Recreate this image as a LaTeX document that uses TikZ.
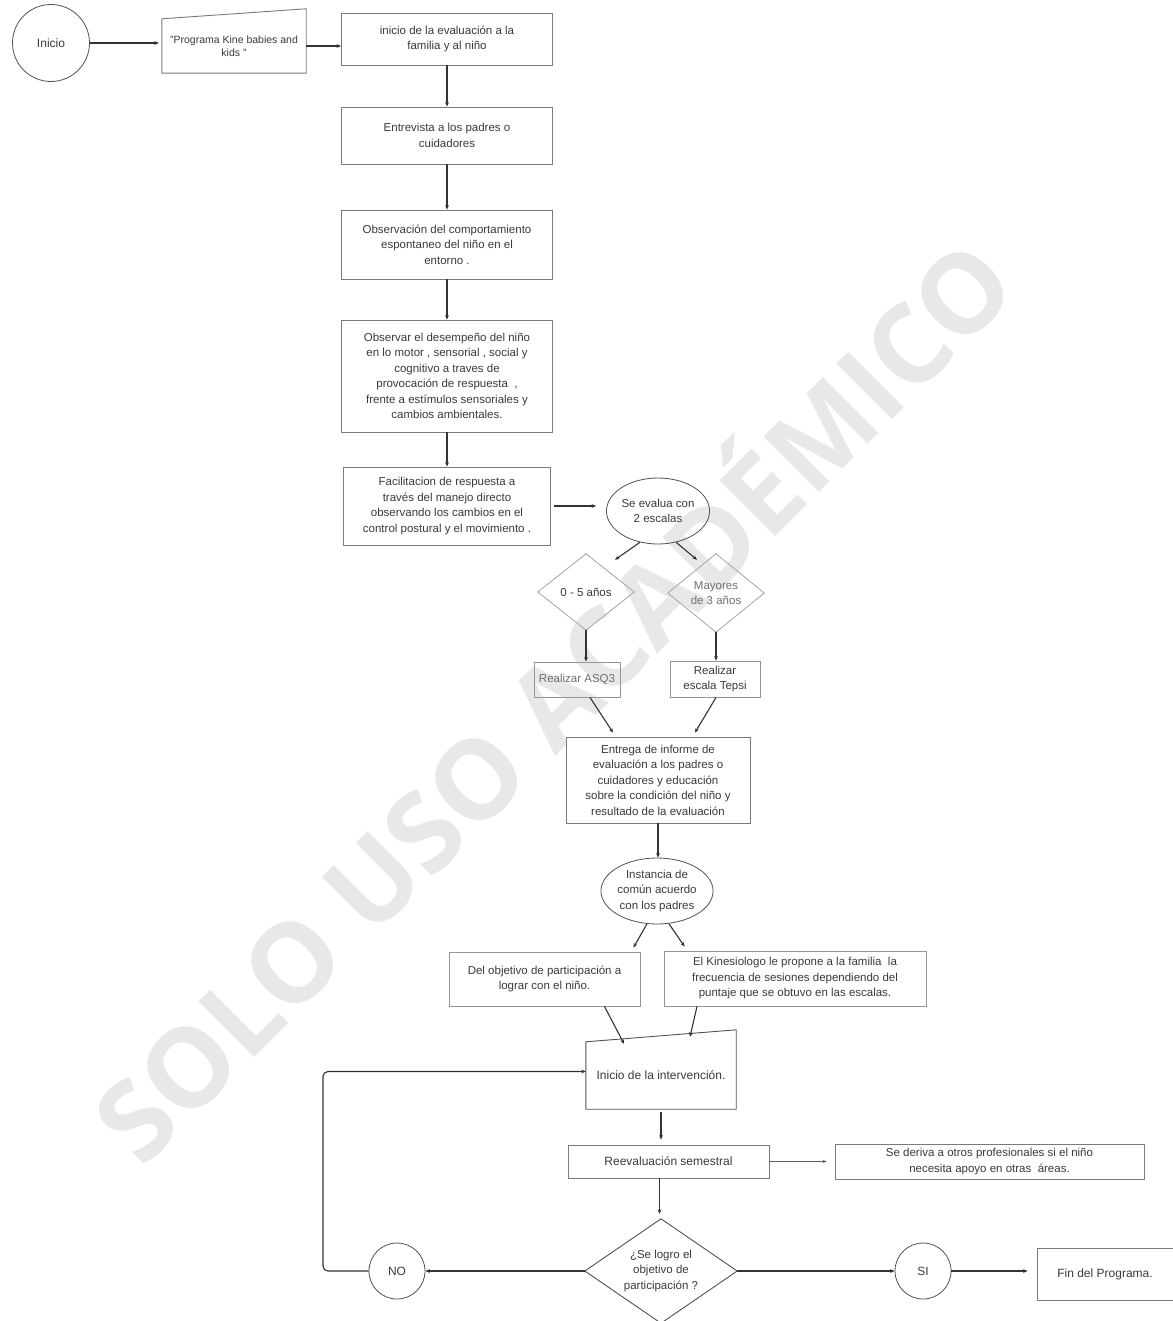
\documentclass[tikz,border=0pt]{standalone}
\usepackage{fontspec}
\setmainfont{Liberation Sans}
\newfontfamily\wmfont{Open Sans}
\usetikzlibrary{arrows.meta,shapes.geometric}
\definecolor{txt}{HTML}{3A3A3A}
\definecolor{lightxt}{HTML}{707070}
\definecolor{ln}{HTML}{333333}
\definecolor{bd}{HTML}{7A7A7A}
\definecolor{dbd}{HTML}{ABABAB}
\definecolor{wm}{HTML}{E8E8E8}
\tikzset{
  base/.style={font=\fontsize{11.5}{15.5}\selectfont, text=txt, align=center, inner sep=0pt},
  box/.style={base, draw=bd, line width=0.9pt, rectangle},
  plain/.style={base, rectangle},
  oval/.style={base, draw=ln!85, line width=0.8pt, ellipse},
  circ/.style={base, draw=ln!85, line width=0.8pt, circle},
  shapeline/.style={draw=bd, line width=0.9pt},
  dialine/.style={draw=dbd, line width=0.9pt},
  arr/.style={draw=ln, line width=1.1pt, -{Stealth[length=4.5pt,width=3.8pt]}},
  thinarr/.style={draw=ln!80, line width=0.6pt, -{Stealth[length=4pt,width=3.2pt]}},
}
\begin{document}
\begin{tikzpicture}[x=1pt,y=-1pt]
\useasboundingbox (0,0) rectangle (1172,1321);
\fill[white] (0,0) rectangle (1172,1321);

% watermark
\node[font=\wmfont\bfseries\fontsize{110}{110}\selectfont, text=wm, rotate=45, inner sep=0pt] (wmk) at (546,694) {SOLO USO ACADÉMICO};

% top row
\node[circ, minimum size=77] (ini) at (51,43) {\fontsize{12}{14}\selectfont Inicio};
\node[plain, minimum width=144, minimum height=54, font=\fontsize{10.5}{13}\selectfont] (prog) at (234,46) {"Programa Kine babies and\\kids "};
\draw[shapeline] (prog.south west) -- (prog.north west) -- ([yshift=10pt]prog.north east) -- (prog.south east) -- cycle;
\node[box, minimum width=211, minimum height=52] (b1) at (447,39) {inicio de la evaluación a la\\familia y al niño};

% main column
\node[box, minimum width=211, minimum height=57] (entrev) at (447,135.5) {Entrevista a los padres o\\cuidadores};
\node[box, minimum width=211, minimum height=69] (obs) at (447,244.5) {Observación del comportamiento\\espontaneo del niño en el\\entorno .};
\node[box, minimum width=211, minimum height=112] (obsv) at (447,376) {Observar el desempeño del niño\\en lo motor , sensorial , social y\\cognitivo a traves de\\provocación de respuesta \ ,\\frente a estímulos sensoriales y\\cambios ambientales.};
\node[box, minimum width=207, minimum height=78] (facil) at (447,506) {Facilitacion de respuesta a\\través del manejo directo\\observando los cambios en el\\control postural y el movimiento .};

\node[oval, minimum width=102, minimum height=66] (eval) at (658,511) {Se evalua con\\2 escalas};

\node[plain, minimum width=96, minimum height=76] (d05) at (586,592) {0 - 5 años};
\draw[dialine] (d05.north) -- (d05.east) -- (d05.south) -- (d05.west) -- cycle;
\node[plain, minimum width=96, minimum height=78, text=lightxt] (dmay) at (716,593) {Mayores\\de 3 años};
\draw[dialine] (dmay.north) -- (dmay.east) -- (dmay.south) -- (dmay.west) -- cycle;

\node[box, draw=bd!80, minimum width=86, minimum height=35, text=lightxt] (asq) at (577,679.5) {Realizar ASQ3};
\node[box, draw=bd!80, minimum width=90, minimum height=36] (tepsi) at (715,679) {Realizar\\escala Tepsi};

\node[box, minimum width=184, minimum height=86] (entrega) at (658,780) {Entrega de informe de\\evaluación a los padres o\\cuidadores y educación\\sobre la condición del niño y\\resultado de la evaluación};

\node[oval, minimum width=100, minimum height=66] (inst) at (657,891) {Instancia de\\común acuerdo\\con los padres};

\node[box, draw=bd!80, minimum width=191, minimum height=54] (delobj) at (544.5,979) {Del objetivo de participación a\\lograr con el niño.};
\node[box, draw=bd!80, minimum width=262, minimum height=55] (kine) at (795,978.5) {El Kinesiologo le propone a la familia \ la\\frecuencia de sesiones dependiendo del\\puntaje que se obtuvo en las escalas.};

\node[plain, minimum width=150, minimum height=67, font=\fontsize{12}{15}\selectfont] (interv) at (661,1075.5) {Inicio de la intervención.};
\draw[shapeline, draw=ln!85] (interv.south west) -- (interv.north west) -- ([yshift=12pt]interv.north east) -- (interv.south east) -- cycle;

\node[box, minimum width=201, minimum height=33, font=\fontsize{12}{15}\selectfont] (reev) at (668.5,1161.5) {Reevaluación semestral};
\node[box, minimum width=309, minimum height=35] (deriva) at (989.5,1161.5) {Se deriva a otros profesionales si el niño\\necesita apoyo en otras \ áreas.};

\node[plain, minimum width=152, minimum height=104] (logro) at (661,1271) {¿Se logro el\\objetivo de\\participación ?};
\draw[shapeline, draw=ln!85] (logro.north) -- (logro.east) -- (logro.south) -- (logro.west) -- cycle;

\node[circ, minimum size=56, font=\fontsize{12}{14}\selectfont] (no) at (397,1271) {NO};
\node[circ, minimum size=56, font=\fontsize{12}{14}\selectfont] (si) at (923,1271) {SI};
\node[box, minimum width=136, minimum height=52, font=\fontsize{12}{15}\selectfont] (fin) at (1105,1274) {Fin del Programa.};

\coordinate (fb) at (323,1271);

% connectors
\draw[arr, shorten >=3pt] (ini) -- (ini -| prog.west);
\draw[arr] (prog.east) -- (prog.east -| b1.west);
\draw[arr] (b1.south) -- (entrev.north);
\draw[arr] (entrev.south) -- (obs.north);
\draw[arr] (obs.south) -- (obsv.north);
\draw[arr] (obsv.south) -- (facil.north);
\draw[arr, shorten <=3pt, shorten >=10pt] (facil.east) -- (facil.east -| eval.west);
\draw[arr] (eval.240) -- ([xshift=29pt,yshift=-6pt]d05.north);
\draw[arr] (eval.300) -- ([xshift=-19pt,yshift=-6pt]dmay.north);
\draw[arr] (d05.south) -- (d05.south |- asq.north);
\draw[arr] (dmay.south) -- (dmay.south |- tepsi.north);
\draw[arr] ([xshift=13pt]asq.south) -- ([xshift=-45pt,yshift=4pt]entrega.north);
\draw[arr] ([xshift=1pt]tepsi.south) -- ([xshift=37pt,yshift=4pt]entrega.north);
\draw[arr] (entrega.south) -- (entrega.south |- inst.north);
\draw[arr] (inst.253) -- ([xshift=-7pt,yshift=4pt]delobj.north east);
\draw[arr] (inst.290) -- ([xshift=21pt,yshift=4pt]kine.north west);
\draw[arr] ([xshift=60pt]delobj.south) -- ([xshift=-37pt,yshift=-2pt]interv.north);
\draw[arr] ([xshift=-98pt]kine.south) -- ([xshift=29pt,yshift=5pt]interv.north);
\draw[arr, shorten <=3pt, shorten >=5pt] (interv.south) -- (interv.south |- reev.north);
\draw[thinarr, shorten >=8pt] (reev.east) -- (deriva.west);
\draw[arr, shorten >=5pt] ([xshift=-9pt]reev.south) -- ([xshift=-9pt]reev.south |- logro.north);
\draw[arr] (logro.west) -- (no.east);
\draw[arr] (logro.east) -- (si.west);
\draw[arr, shorten >=9pt] (si.east) -- (si.east -| fin.west);
\draw[arr, rounded corners=5pt] (no.west) -- (fb) |- ([yshift=4pt]interv.west);
\end{tikzpicture}
\end{document}
